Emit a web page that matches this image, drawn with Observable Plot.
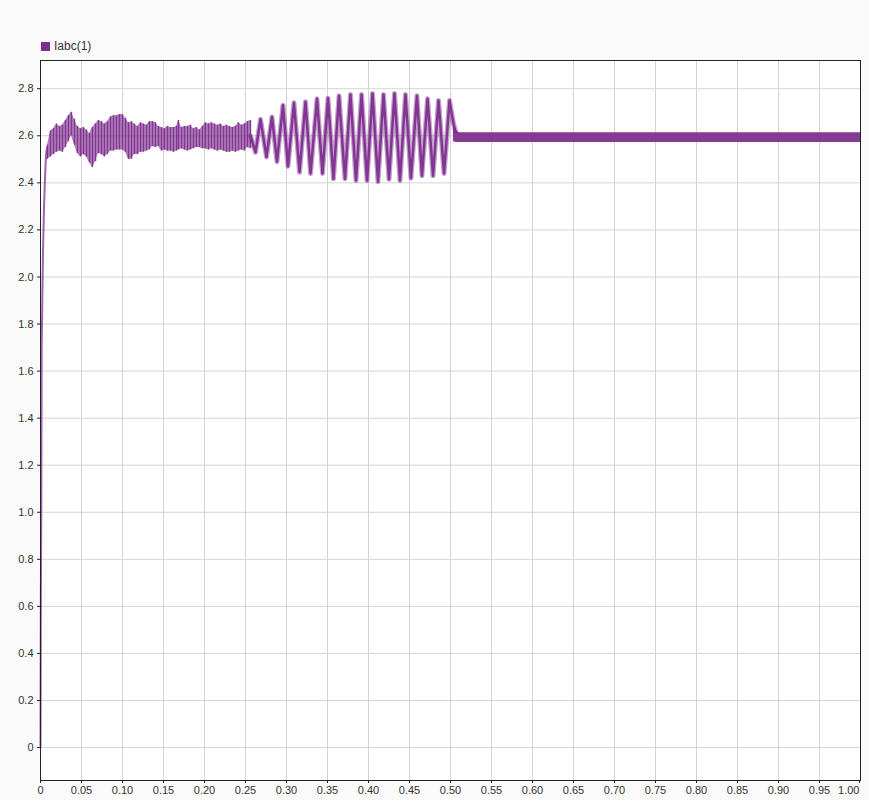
<!DOCTYPE html>
<html>
<head>
<meta charset="utf-8">
<script src="https://cdn.jsdelivr.net/npm/d3@7"></script>
<script src="https://cdn.jsdelivr.net/npm/@observablehq/plot@0.6"></script>
<style>
  html, body { margin: 0; padding: 0; background: #fafafa; }
  #wrap { position: relative; width: 869px; height: 800px; font-family: "Liberation Sans", Arial, sans-serif; }
  #legend { position: absolute; left: 41px; top: 39px; font-size: 12px; color: #333; display: flex; align-items: center; }
  #legend .sw { width: 9px; height: 9px; background: #7E2F8E; margin-right: 4px; }
  #chart { position: absolute; left: 0; top: 0; }
</style>
</head>
<body>
<div id="wrap">
  <div id="legend"><span class="sw"></span><span id="legtext"></span></div>
  <div id="chart"></div>
</div>
<script>
// ---- data ----
const seriesName = "Iabc(1)";
const seriesColor = "#7E2F8E";

// startup transient (time s, value)
const startT = [0, 0.0004, 0.0010, 0.0014, 0.0020, 0.0030, 0.0043, 0.0055, 0.0067, 0.0080];
const startV = [0, 0.60, 1.05, 1.70, 1.85, 2.10, 2.30, 2.42, 2.52, 2.55];

// noisy ripple band 0.008 - 0.256 s (time, low, high)
const bandT = [0.0085,0.0122,0.0159,0.0195,0.0232,0.0268,0.0305,0.0341,0.0378,0.0415,0.0451,0.0488,0.0524,0.0561,0.0598,0.0634,0.0671,0.0707,0.0744,0.0780,0.0817,0.0854,0.0890,0.0927,0.0963,0.1000,0.1037,0.1073,0.1110,0.1146,0.1183,0.1220,0.1256,0.1293,0.1329,0.1366,0.1402,0.1439,0.1476,0.1512,0.1549,0.1585,0.1622,0.1659,0.1683,0.1720,0.1756,0.1793,0.1829,0.1866,0.1902,0.1939,0.1976,0.2012,0.2049,0.2085,0.2122,0.2159,0.2195,0.2232,0.2268,0.2305,0.2341,0.2378,0.2415,0.2451,0.2488,0.2524,0.2561];
const bandLo = [2.50,2.51,2.52,2.53,2.535,2.53,2.55,2.575,2.60,2.56,2.525,2.51,2.52,2.51,2.485,2.465,2.49,2.525,2.52,2.51,2.52,2.535,2.535,2.54,2.54,2.54,2.53,2.50,2.50,2.52,2.52,2.53,2.53,2.535,2.54,2.555,2.55,2.555,2.535,2.54,2.535,2.535,2.53,2.535,2.54,2.545,2.54,2.535,2.54,2.545,2.55,2.55,2.545,2.545,2.54,2.545,2.54,2.535,2.54,2.535,2.53,2.53,2.535,2.53,2.535,2.54,2.535,2.55,2.545];
const bandHi = [2.56,2.62,2.63,2.65,2.64,2.645,2.665,2.685,2.70,2.67,2.64,2.63,2.635,2.625,2.61,2.635,2.65,2.665,2.66,2.65,2.66,2.68,2.685,2.685,2.69,2.69,2.675,2.655,2.66,2.65,2.64,2.655,2.65,2.645,2.66,2.66,2.655,2.64,2.635,2.63,2.64,2.635,2.635,2.64,2.665,2.635,2.64,2.64,2.645,2.63,2.635,2.625,2.64,2.655,2.65,2.655,2.65,2.645,2.65,2.64,2.645,2.64,2.635,2.64,2.655,2.645,2.65,2.66,2.665];

// growing oscillation 0.256 - 0.506 s (time, value) peaks and troughs
const oscT = [0.2561,0.2622,0.2683,0.2756,0.2823,0.2884,0.2957,0.3018,0.3091,0.3159,0.3232,0.3293,0.3372,0.3439,0.3506,0.3573,0.3640,0.3713,0.3780,0.3848,0.3915,0.3982,0.4049,0.4116,0.4183,0.4250,0.4317,0.4384,0.4451,0.4518,0.4591,0.4652,0.4720,0.4787,0.4854,0.4921,0.4988,0.5012,0.5037,0.5061];
const oscV = [2.60,2.53,2.67,2.51,2.68,2.49,2.73,2.47,2.74,2.445,2.745,2.44,2.757,2.44,2.76,2.417,2.77,2.417,2.776,2.41,2.776,2.41,2.78,2.405,2.776,2.415,2.78,2.41,2.776,2.42,2.77,2.43,2.757,2.43,2.75,2.44,2.75,2.70,2.65,2.62];

// steady-state band 0.504 - 1.0 s (time, low, high)
const steadyT = [0.5037, 0.5073, 0.5110, 1.0];
const steadyLo = [2.575, 2.572, 2.5715, 2.5715];
const steadyHi = [2.64, 2.62, 2.6125, 2.6125];

// axes
const xTicks = [0,0.05,0.10,0.15,0.20,0.25,0.30,0.35,0.40,0.45,0.50,0.55,0.60,0.65,0.70,0.75,0.80,0.85,0.90,0.95,1.00];
const xTickLabels = ["0","0.05","0.10","0.15","0.20","0.25","0.30","0.35","0.40","0.45","0.50","0.55","0.60","0.65","0.70","0.75","0.80","0.85","0.90","0.95","1.00"];
const yTicks = [0,0.2,0.4,0.6,0.8,1.0,1.2,1.4,1.6,1.8,2.0,2.2,2.4,2.6,2.8];
const yTickLabels = ["0","0.2","0.4","0.6","0.8","1.0","1.2","1.4","1.6","1.8","2.0","2.2","2.4","2.6","2.8"];
const xDomain = [0, 1];
const yDomain = [-0.14, 2.92];

// ---- build tables ----
const startData = startT.map((t, i) => ({t, v: startV[i]}));
const bandData = bandT.map((t, i) => ({t, lo: bandLo[i], hi: bandHi[i]}));
const oscData = oscT.map((t, i) => ({t, v: oscV[i]}));
const steadyData = steadyT.map((t, i) => ({t, lo: steadyLo[i], hi: steadyHi[i]}));

document.getElementById("legtext").textContent = seriesName;

const fmtX = d => xTickLabels[xTicks.findIndex(v => Math.abs(v - d) < 1e-9)];
const fmtY = d => yTickLabels[yTicks.findIndex(v => Math.abs(v - d) < 1e-9)];
const xTicksInner = xTicks.slice(0, -1);
const xTickLast = xTicks.slice(-1);

const chart = Plot.plot({
  width: 869,
  height: 800,
  marginLeft: 40,
  marginRight: 9,
  marginTop: 60,
  marginBottom: 20,
  style: {background: "transparent", fontFamily: "'Liberation Sans', Arial, sans-serif", fontSize: "11px", color: "#333"},
  x: {domain: xDomain},
  y: {domain: yDomain},
  marks: [
    Plot.frame({fill: "white", stroke: null}),
    Plot.gridX(xTicks, {stroke: "#d4d4d4", strokeOpacity: 1, strokeWidth: 1}),
    Plot.gridY(yTicks, {stroke: "#d4d4d4", strokeOpacity: 1, strokeWidth: 1}),
    Plot.axisX(xTicksInner, {tickFormat: fmtX, tickSize: 3, tickPadding: 3, label: null, fill: "#333", stroke: "#222"}),
    Plot.axisX(xTickLast, {tickFormat: fmtX, tickSize: 3, tickPadding: 3, label: null, fill: "#333", stroke: "#222", textAnchor: "end", dx: -1}),
    Plot.axisY(yTicks, {tickFormat: fmtY, tickSize: 3, tickPadding: 4, label: null, fill: "#333", stroke: "#222"}),
    // steady band
    Plot.areaY(steadyData, {x: "t", y1: "lo", y2: "hi", fill: seriesColor, fillOpacity: 0.95, curve: "linear"}),
    // noisy band
    Plot.areaY(bandData, {x: "t", y1: "lo", y2: "hi", fill: seriesColor, fillOpacity: 0.6, curve: "linear"}),
    Plot.ruleX(bandData, {x: "t", y1: "lo", y2: "hi", stroke: seriesColor, strokeWidth: 1.4, strokeOpacity: 0.95}),
    // startup
    Plot.line(startData, {x: "t", y: "v", stroke: seriesColor, strokeWidth: 2, strokeOpacity: 0.75}),
    // oscillation
    Plot.line(oscData, {x: "t", y: "v", stroke: seriesColor, strokeWidth: 5, strokeOpacity: 0.45}),
    Plot.line(oscData, {x: "t", y: "v", stroke: seriesColor, strokeWidth: 2.5, strokeOpacity: 0.95}),
    Plot.frame({stroke: "#222", strokeWidth: 1})
  ]
});
document.getElementById("chart").appendChild(chart);
</script>
</body>
</html>
